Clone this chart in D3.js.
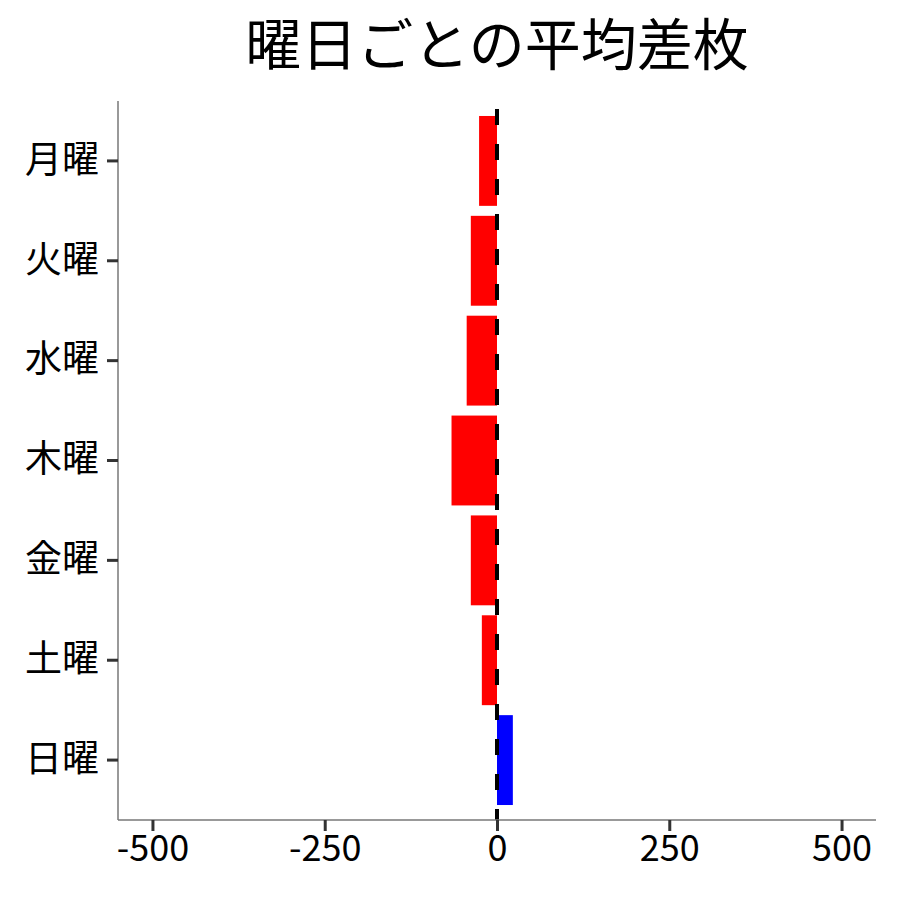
<!DOCTYPE html>
<html>
<head>
<meta charset="utf-8">
<script src="https://cdn.jsdelivr.net/npm/d3@7"></script>
<style>
  body { margin: 0; background: #fff; }
  text { font-family: "Noto Sans CJK JP", "Noto Sans", sans-serif; }
</style>
</head>
<body>
<div class="chart"></div>
<script>
const days = ['月曜', '火曜', '水曜', '木曜', '金曜', '土曜', '日曜'];
const avgDiff = [-26, -38, -44, -66, -38, -22, 23];
const xTicks = [-500, -250, 0, 250, 500];
const xDomain = [-550, 550];

const width = 900, height = 900;
const margin = {top: 101, right: 24, bottom: 80, left: 118};

const svg = d3.select('.chart')
    .append('svg')
    .attr('width', width)
    .attr('height', height);

const xScale = d3.scaleLinear()
    .domain(xDomain)
    .range([margin.left, width - margin.right]);

const yScale = d3.scaleBand()
    .domain(days)
    .range([margin.top, height - margin.bottom])
    .paddingInner(0.1)
    .paddingOuter(0.15);

// title
svg.append('text')
    .attr('x', (margin.left + width - margin.right) / 2)
    .attr('y', 65)
    .attr('text-anchor', 'middle')
    .attr('font-size', 56)
    .attr('fill', '#000')
    .text('曜日ごとの平均差枚');

// bars
svg.selectAll('.bar')
    .data(days)
    .enter()
    .append('rect')
    .attr('class', 'bar')
    .attr('x', (d, i) => xScale(Math.min(0, avgDiff[i])))
    .attr('y', d => yScale(d))
    .attr('width', (d, i) => Math.abs(xScale(avgDiff[i]) - xScale(0)))
    .attr('height', yScale.bandwidth())
    .attr('fill', (d, i) => avgDiff[i] < 0 ? '#ff0000' : '#0000ff');

// zero line
svg.append('line')
    .attr('x1', xScale(0))
    .attr('x2', xScale(0))
    .attr('y1', margin.top)
    .attr('y2', height - margin.bottom)
    .attr('stroke', '#000')
    .attr('stroke-width', 4)
    .attr('stroke-dasharray', '16,19')
    .attr('stroke-dashoffset', -8);

// axes
const xAxis = d3.axisBottom(xScale)
    .tickValues(xTicks)
    .tickSize(11)
    .tickPadding(4)
    .tickFormat(d => String(d));

const gx = svg.append('g')
    .attr('class', 'axis x-axis')
    .attr('transform', `translate(0, ${height - margin.bottom})`)
    .call(xAxis);

const yAxis = d3.axisLeft(yScale)
    .tickSize(11)
    .tickPadding(8);

const gy = svg.append('g')
    .attr('class', 'axis y-axis')
    .attr('transform', `translate(${margin.left}, 0)`)
    .call(yAxis);

[gx, gy].forEach(g => {
    g.select('.domain')
        .attr('stroke', '#777')
        .attr('stroke-width', 1.5);
    g.selectAll('.tick line')
        .attr('stroke', '#333')
        .attr('stroke-width', 3);
    g.selectAll('.tick text')
        .attr('fill', '#000')
        .attr('font-size', 36)
        .attr('font-family', '"Noto Sans CJK JP", "Noto Sans", sans-serif');
});
gy.selectAll('.tick text').attr('font-size', 37);
gx.select('.domain').attr('d', `M${margin.left},0H${width - margin.right}`);
gy.select('.domain').attr('d', `M0,${margin.top}V${height - margin.bottom}`);
</script>
</body>
</html>
